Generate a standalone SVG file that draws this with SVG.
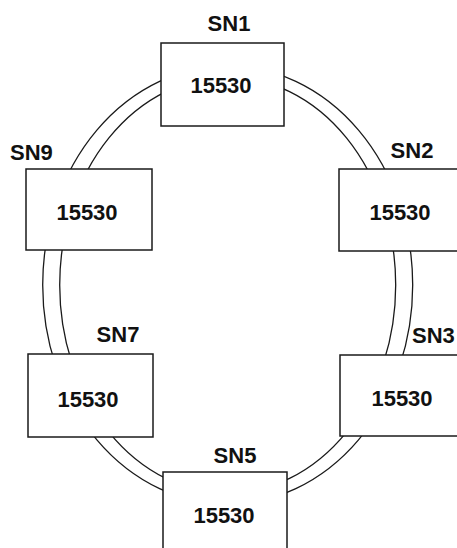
<svg xmlns="http://www.w3.org/2000/svg" width="457" height="548" viewBox="0 0 457 548">
  <style>
    .ring { fill: none; stroke: #1a1a1a; stroke-width: 1.3; }
    .box { fill: #ffffff; stroke: #1a1a1a; stroke-width: 1.5; }
    .t { font-family: "Liberation Sans", Arial, sans-serif; font-size: 22px; font-weight: bold; fill: #111111; }
    .c { text-anchor: middle; }
  </style>
  <rect width="457" height="548" fill="#ffffff"/>
  <g id="connectors">
    <ellipse class="ring" cx="227.7" cy="285" rx="185" ry="219"/>
    <ellipse class="ring" cx="227.7" cy="285" rx="168" ry="208"/>
  </g>
  <g id="SN1">
    <rect class="box" x="161" y="43" width="123" height="83"/>
    <text class="t c" x="221" y="93">15530</text>
    <text class="t c" x="229" y="31">SN1</text>
  </g>
  <g id="SN9">
    <rect class="box" x="26" y="169" width="126" height="81"/>
    <text class="t c" x="87" y="220">15530</text>
    <text class="t" x="10" y="160">SN9</text>
  </g>
  <g id="SN2">
    <rect class="box" x="339" y="169" width="126" height="82"/>
    <text class="t c" x="400" y="220">15530</text>
    <text class="t c" x="412" y="158">SN2</text>
  </g>
  <g id="SN7">
    <rect class="box" x="28" y="354" width="125" height="83"/>
    <text class="t c" x="88" y="407">15530</text>
    <text class="t c" x="118" y="342">SN7</text>
  </g>
  <g id="SN3">
    <rect class="box" x="340" y="355" width="125" height="81"/>
    <text class="t c" x="402" y="406">15530</text>
    <text class="t" x="412" y="343">SN3</text>
  </g>
  <g id="SN5">
    <rect class="box" x="163" y="472" width="124" height="90"/>
    <text class="t c" x="224" y="523">15530</text>
    <text class="t c" x="235" y="463">SN5</text>
  </g>
</svg>
